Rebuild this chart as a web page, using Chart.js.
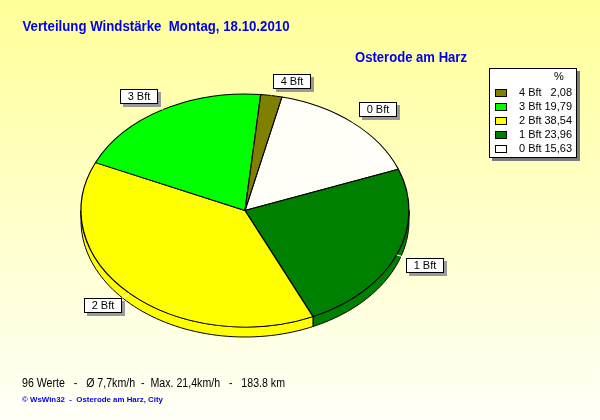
<!DOCTYPE html>
<html>
<head>
<meta charset="utf-8">
<script src="https://cdn.jsdelivr.net/npm/chart.js@4.4.0/dist/chart.umd.min.js"></script>
<style>
  html, body { margin: 0; padding: 0; background: #fff; }
  #chart { display: block; }
</style>
</head>
<body>
<canvas id="chart" width="600" height="420"></canvas>
<script>
// data
const categories = ['0 Bft', '1 Bft', '2 Bft', '3 Bft', '4 Bft'];
const percentValues = [15.63, 23.96, 38.54, 19.79, 2.08];
const sliceColors = ['#FFFFF8', '#008000', '#FFFF00', '#00FF00', '#808000'];

const titleText = 'Verteilung Windstärke  Montag, 18.10.2010';
const stationText = 'Osterode am Harz';
const summaryText = '96 Werte   -   Ø 7,7km/h  -  Max. 21,4km/h   -   183.8 km';
const copyrightText = '© WsWin32  -  Osterode am Harz, City';

// the ellipse the round pie gets squashed into
const pieBox = { cx: 245, cy: 210.5, rx: 164, ry: 116.5, depth: 10 };

function ellipsePt(a, f) {
  return { x: pieBox.cx + pieBox.rx * f * Math.cos(a), y: pieBox.cy + pieBox.ry * f * Math.sin(a) };
}

// draw text squeezed to a given width (the original fonts are narrower)
function fitText(ctx, txt, x, y, width) {
  const w = ctx.measureText(txt).width;
  ctx.save();
  ctx.translate(x, y);
  ctx.scale(Math.min(1, width / w), 1);
  ctx.fillText(txt, 0, 0);
  ctx.restore();
}

const bgPlugin = {
  id: 'bg',
  beforeDraw(chart) {
    const ctx = chart.ctx;
    const g = ctx.createLinearGradient(0, 0, 0, chart.height);
    g.addColorStop(0, '#FFFF99');
    g.addColorStop(1, '#FFFFF8');
    ctx.save();
    ctx.fillStyle = g;
    ctx.fillRect(0, 0, chart.width, chart.height);
    ctx.restore();
  }
};

const tiltPlugin = {
  id: 'tilt',
  beforeDatasetsDraw(chart) {
    const ctx = chart.ctx;
    const arcs = chart.getDatasetMeta(0).data;
    // side band of the 3d pie, front half only
    ctx.save();
    arcs.forEach((arc, i) => {
      for (let k = -1; k <= 2; k++) {
        const lo = Math.max(arc.startAngle, k * 2 * Math.PI);
        const hi = Math.min(arc.endAngle, k * 2 * Math.PI + Math.PI);
        if (hi <= lo) continue;
        const steps = 60;
        ctx.beginPath();
        for (let s = 0; s <= steps; s++) {
          const p = ellipsePt(lo + (hi - lo) * s / steps, 1);
          if (s === 0) ctx.moveTo(p.x, p.y); else ctx.lineTo(p.x, p.y);
        }
        for (let s = steps; s >= 0; s--) {
          const p = ellipsePt(lo + (hi - lo) * s / steps, 1);
          ctx.lineTo(p.x, p.y + pieBox.depth);
        }
        ctx.closePath();
        ctx.fillStyle = sliceColors[i];
        ctx.fill();
        ctx.strokeStyle = '#000';
        ctx.lineWidth = 1;
        ctx.stroke();
      }
    });
    ctx.restore();

    const a0 = arcs[0];
    const R = a0.outerRadius;
    ctx.save();
    ctx.translate(pieBox.cx, pieBox.cy);
    ctx.scale(pieBox.rx / R, pieBox.ry / R);
    ctx.translate(-a0.x, -a0.y);
  },
  afterDatasetsDraw(chart) {
    const ctx = chart.ctx;
    ctx.restore();

    // slice labels in little boxes
    const arcs = chart.getDatasetMeta(0).data;
    ctx.save();
    ctx.font = '11px "Liberation Sans", Arial, sans-serif';
    ctx.textAlign = 'center';
    ctx.textBaseline = 'middle';
    arcs.forEach((arc, i) => {
      const m = (arc.startAngle + arc.endAngle) / 2;
      const edge = ellipsePt(m, 1);
      const anc = ellipsePt(m, 1.06);
      const w = 38, h = 15;
      const left = anc.x >= pieBox.cx ? anc.x : anc.x - w;
      const top = anc.y <= pieBox.cy ? anc.y - h : anc.y;
      ctx.strokeStyle = '#fff';
      ctx.lineWidth = 1;
      ctx.beginPath();
      ctx.moveTo(edge.x, edge.y);
      ctx.lineTo(anc.x, anc.y);
      ctx.stroke();
      ctx.fillStyle = '#9a9a9a';
      ctx.fillRect(Math.round(left) + 3, Math.round(top) + 3, w, h);
      ctx.fillStyle = '#fff';
      ctx.fillRect(Math.round(left), Math.round(top), w, h);
      ctx.strokeStyle = '#000';
      ctx.strokeRect(Math.round(left) + 0.5, Math.round(top) + 0.5, w - 1, h - 1);
      ctx.fillStyle = '#000';
      ctx.fillText(categories[i], Math.round(left) + w / 2, Math.round(top) + h / 2 + 0.5);
    });
    ctx.restore();
  }
};

const textPlugin = {
  id: 'texts',
  afterDraw(chart) {
    const ctx = chart.ctx;
    ctx.save();
    ctx.textBaseline = 'alphabetic';
    ctx.textAlign = 'left';
    ctx.fillStyle = '#0000F0';
    ctx.font = 'bold 14px "Liberation Sans", Arial, sans-serif';
    fitText(ctx, titleText, 22.5, 31, 267);
    fitText(ctx, stationText, 355, 62, 112);

    ctx.fillStyle = '#000';
    ctx.font = '12px "Liberation Sans", Arial, sans-serif';
    fitText(ctx, summaryText, 22, 387, 263);
    ctx.fillStyle = '#0000F0';
    ctx.font = 'bold 8px "Liberation Sans", Arial, sans-serif';
    fitText(ctx, copyrightText, 22, 402, 141);

    // legend box
    const bx = 489, by = 68, bw = 88, bh = 90;
    ctx.fillStyle = '#7a7a7a';
    ctx.fillRect(bx + 3, by + 3, bw, bh);
    ctx.fillStyle = '#fff';
    ctx.fillRect(bx, by, bw, bh);
    ctx.strokeStyle = '#000';
    ctx.lineWidth = 1;
    ctx.strokeRect(bx + 0.5, by + 0.5, bw - 1, bh - 1);

    ctx.textBaseline = 'middle';
    ctx.fillStyle = '#000';
    ctx.font = '11px "Liberation Sans", Arial, sans-serif';
    ctx.textAlign = 'center';
    ctx.fillText('%', 559, 77);
    for (let r = 0; r < categories.length; r++) {
      const i = categories.length - 1 - r;
      const y = 93.3 + r * 13.8;
      ctx.fillStyle = sliceColors[i];
      ctx.fillRect(495, Math.round(y - 4), 12, 8);
      ctx.strokeStyle = '#000';
      ctx.strokeRect(495.5, Math.round(y - 4) + 0.5, 11, 7);
      ctx.fillStyle = '#000';
      ctx.textAlign = 'left';
      ctx.fillText(categories[i], 519, y);
      ctx.textAlign = 'right';
      ctx.fillText(percentValues[i].toFixed(2).replace('.', ','), 572, y);
    }
    ctx.restore();
  }
};

new Chart(document.getElementById('chart'), {
  type: 'pie',
  data: {
    labels: categories,
    datasets: [{
      data: percentValues,
      backgroundColor: sliceColors,
      borderColor: '#000',
      borderWidth: 1.2,
      clip: false
    }]
  },
  options: {
    responsive: false,
    animation: false,
    rotation: 13,
    layout: { padding: { left: 81, right: 191, top: 46, bottom: 46 } },
    plugins: {
      legend: { display: false },
      tooltip: { enabled: false },
      title: { display: false }
    }
  },
  plugins: [bgPlugin, tiltPlugin, textPlugin]
});
</script>
</body>
</html>
